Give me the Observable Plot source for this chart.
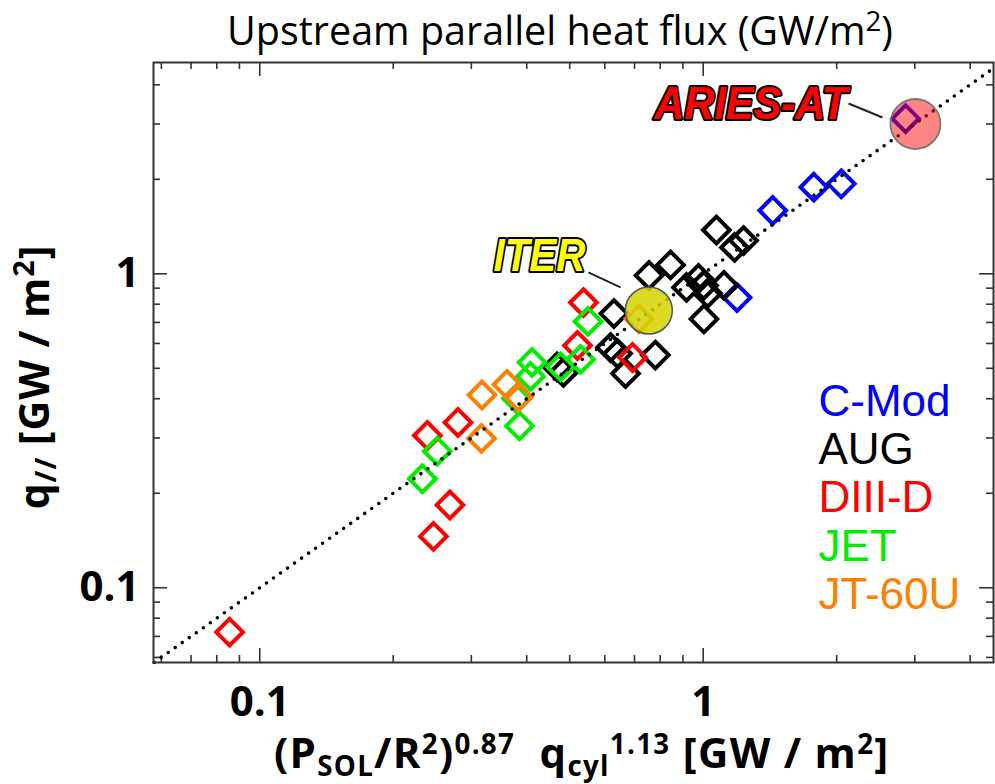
<!DOCTYPE html>
<html><head><meta charset="utf-8">
<script src="https://cdn.jsdelivr.net/npm/d3@7"></script>
<script src="https://cdn.jsdelivr.net/npm/@observablehq/plot@0.6"></script>
<style>body{margin:0;background:#fff}#chart svg{display:block}</style>
</head><body><div id="chart"></div>
<script>
// ---- data ----
const xMajor = [0.1, 1];
const yMajor = [0.1, 1];
const xMinor = [0.06,0.07,0.08,0.09,0.2,0.3,0.4,0.5,0.6,0.7,0.8,0.9,2,3,4];
const yMinor = [0.06,0.07,0.08,0.09,0.2,0.3,0.4,0.5,0.6,0.7,0.8,0.9,2,3,4];
const devices = ["C-Mod","AUG","DIII-D","JET","JT-60U"];
const deviceColors = ["#0000ff","#000000","#ff0000","#00ee00","#ff8000"];

const cmodX = [1.192, 1.435, 1.776, 2.048];
const cmodY = [0.840, 1.591, 1.887, 1.935];
const augX = [0.468, 0.484, 0.618, 0.641, 0.629, 0.668, 0.780, 0.755, 0.844, 0.917, 0.976, 1.002, 1.023, 1.004, 1.114, 1.071, 1.177, 1.233];
const augY = [0.505, 0.485, 0.582, 0.557, 0.747, 0.481, 0.551, 0.988, 1.067, 0.905, 0.966, 0.918, 0.866, 0.718, 0.918, 1.379, 1.213, 1.276];
const d3dX = [0.0855, 0.2464, 0.2685, 0.2388, 0.2799, 0.537, 0.5206, 0.693];
const d3dY = [0.0722, 0.1457, 0.1835, 0.3055, 0.336, 0.810, 0.591, 0.5413];
const jetX = [0.2327, 0.2513, 0.3852, 0.4111, 0.4079, 0.3793, 0.4768, 0.5289, 0.5497];
const jetY = [0.2224, 0.2723, 0.3276, 0.5219, 0.471, 0.4007, 0.505, 0.5335, 0.705];
const jt60X = [0.3170, 0.361, 0.3833, 0.3162, 0.716];
const jt60Y = [0.4111, 0.4441, 0.405, 0.2989, 0.719];
const seriesX = [cmodX, augX, d3dX, jetX, jt60X];
const seriesY = [cmodY, augY, d3dY, jetY, jt60Y];

// reactor projections
const machines = ["ITER", "ARIES-AT"];
const machineX = [0.754, 3.01];
const machineY = [0.764, 3.00];
const machineFill = ["#d2d200", "#ff0000"];
const ariesDiamondX = [2.86];
const ariesDiamondY = [3.12];
const labelX = [0.5427, 2.112];
const labelY = [1.024, 3.123];
const leaderX1 = [0.551, 2.127];
const leaderY1 = [1.01, 3.487];
const leaderX2 = [0.651, 2.537];
const leaderY2 = [0.905, 3.147];

const diagonal = [0.0578, 4.515];

// ---- build tables ----
const points = devices.flatMap((name, i) => seriesX[i].map((x, j) => ({device: name, x, y: seriesY[i][j]})));
const machineRows = machines.map((m, i) => ({m, x: machineX[i], y: machineY[i], fill: machineFill[i],
  lx: labelX[i], ly: labelY[i], x1: leaderX1[i], y1: leaderY1[i], x2: leaderX2[i], y2: leaderY2[i]}));

const W = 995, H = 784, mL = 153, mR = 2, mT = 62, mB = 122;
const fw = W - mL - mR, fh = H - mT - mB;
const MAJ = 14, MIN = 7;
const tickStyle = {stroke: "#333", strokeWidth: 1.6};

const chart = Plot.plot({
  width: W, height: H,
  marginLeft: mL, marginRight: mR, marginTop: mT, marginBottom: mB,
  style: {fontFamily: "Open Sans", background: "#fff", overflow: "visible"},
  x: {type: "log", domain: [0.0576, 4.515]},
  y: {type: "log", domain: [0.0578, 4.71]},
  color: {domain: devices, range: deviceColors},
  marks: [
    // ticks (inward, on all four sides)
    Plot.tickX(xMajor, {...tickStyle, insetTop: fh - MAJ}),
    Plot.tickX(xMajor, {...tickStyle, insetBottom: fh - MAJ}),
    Plot.tickX(xMinor, {...tickStyle, insetTop: fh - MIN}),
    Plot.tickX(xMinor, {...tickStyle, insetBottom: fh - MIN}),
    Plot.tickY(yMajor, {...tickStyle, insetRight: fw - MAJ}),
    Plot.tickY(yMajor, {...tickStyle, insetLeft: fw - MAJ}),
    Plot.tickY(yMinor, {...tickStyle, insetRight: fw - MIN}),
    Plot.tickY(yMinor, {...tickStyle, insetLeft: fw - MIN}),
    Plot.axisX(xMajor, {tickSize: 0, tickPadding: 24, tickFormat: d => String(d), label: null,
      fontSize: 42, fontWeight: "bold", fill: "#000"}),
    Plot.axisY(yMajor, {tickSize: 0, tickPadding: 14, tickFormat: d => String(d), label: null,
      fontSize: 42, fontWeight: "bold", fill: "#000"}),
    // data
    Plot.dot(points, {x: "x", y: "y", symbol: "diamond2", r: 12, stroke: "device", strokeWidth: 4, fill: "none"}),
    Plot.dot(ariesDiamondX.map((x, i) => ({x, y: ariesDiamondY[i]})), {x: "x", y: "y", symbol: "diamond2", r: 12, stroke: "#0000ff", strokeWidth: 4, fill: "none"}),
    Plot.line(diagonal.map(v => ({x: v, y: v})), {x: "x", y: "y", stroke: "#000", strokeWidth: 3.6, strokeLinecap: "round", strokeDasharray: "0 8.6"}),
    // ITER / ARIES-AT
    Plot.dot(machineRows.slice(0, 1), {x: "x", y: "y", r: 23.5, fill: "fill", fillOpacity: 0.85, stroke: "#555", strokeWidth: 1.5}),
    Plot.dot(machineRows.slice(1), {x: "x", y: "y", r: 25, fill: "fill", fillOpacity: 0.48, stroke: "#777", strokeWidth: 1.8}),
    Plot.link(machineRows, {x1: "x1", y1: "y1", x2: "x2", y2: "y2", stroke: "#222", strokeWidth: 2}),
    Plot.text(machineRows, {x: "lx", y: "ly", text: "m", textAnchor: "end", lineAnchor: "bottom",
      fill: (d, i) => i === 0 ? "#ffff00" : "#ff0000", stroke: "#000", strokeWidth: 4, paintOrder: "stroke",
      fontFamily: "Liberation Sans", fontWeight: "bold", fontStyle: "italic", fontSize: 46}),
    // legend
    ...devices.map((name, i) => Plot.text([name], {text: d => d, frameAnchor: "top-left", dx: 665, dy: 353 + i * 48.4,
      textAnchor: "start", lineAnchor: "bottom", fill: deviceColors[i], fontFamily: "Liberation Sans", fontSize: 44})),
    Plot.frame({stroke: "#333", strokeWidth: 2})
  ]
});
document.getElementById("chart").appendChild(chart);

// condense the bold italic labels
const svg = d3.select(chart);
svg.selectAll("text").each(function() {
  if (this.textContent === "ITER") { this.setAttribute("textLength", 92); this.setAttribute("lengthAdjust", "spacingAndGlyphs"); }
  if (this.textContent === "ARIES-AT") { this.setAttribute("textLength", 193); this.setAttribute("lengthAdjust", "spacingAndGlyphs"); }
});

// rich text (sub/superscripts)
function rich(sel, parts, size, supShift = 0.36, subShift = 0.18, scale = 0.7) {
  let cur = 0;
  parts.forEach(([t, k]) => {
    const target = k === "sup" ? -supShift * size : k === "sub" ? subShift * size : 0;
    const ts = sel.append("tspan").attr("dy", target - cur).text(t);
    if (k) ts.attr("font-size", size * scale);
    cur = target;
  });
}
const title = svg.append("text").attr("x", 560).attr("y", 45).attr("text-anchor", "middle")
  .attr("font-family", "Open Sans").attr("font-size", 39.5).attr("fill", "#000");
rich(title, [["Upstream parallel heat flux (GW/m"], ["2", "sup"], [")"]], 39.5);

const xlab = svg.append("text").attr("x", 274).attr("y", 768).attr("text-anchor", "start")
  .attr("font-family", "Open Sans").attr("font-weight", "bold").attr("font-size", 42)
  .attr("letter-spacing", 1.3).attr("fill", "#000");
rich(xlab, [["(P"], ["SOL", "sub"], ["/R"], ["2", "sup"], [")"], ["0.87", "sup"], ["\u00a0\u00a0q"], ["cyl", "sub"], ["1.13", "sup"], [" [GW / m"], ["2", "sup"], ["]"]], 42, 0.33, 0.18, 0.66);

const ylab = svg.append("text").attr("transform", "translate(49,377) rotate(-90)").attr("text-anchor", "middle")
  .attr("font-family", "Open Sans").attr("font-weight", "bold").attr("font-size", 41)
  .attr("letter-spacing", 1).attr("fill", "#000");
rich(ylab, [["q"], ["//", "sub"], [" [GW / m"], ["2", "sup"], ["]"]], 41);
</script>
</body></html>
